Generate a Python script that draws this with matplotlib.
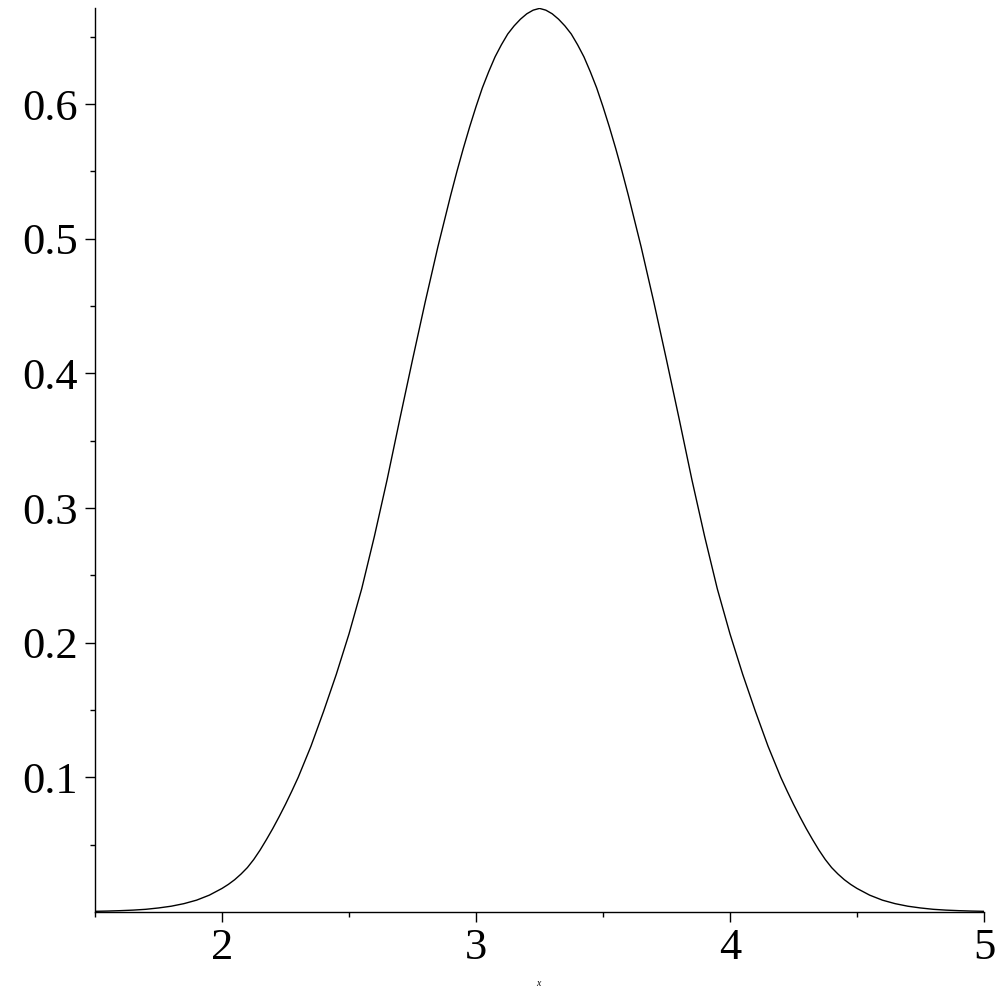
import matplotlib
matplotlib.use("Agg")
import matplotlib.pyplot as plt
from matplotlib.ticker import FixedLocator

x_vals = [1.50, 1.55, 1.60, 1.65, 1.70, 1.75, 1.80, 1.85, 1.90, 1.95,
          2.00, 2.025, 2.05, 2.075, 2.10, 2.125, 2.15, 2.175, 2.20, 2.225, 2.25, 2.275,
          2.30, 2.35, 2.40, 2.45, 2.50, 2.55, 2.60, 2.65, 2.70, 2.75, 2.80, 2.85,
          2.90, 2.925, 2.95, 2.975, 3.00, 3.025, 3.05, 3.075, 3.10, 3.125, 3.15, 3.175,
          3.20, 3.225, 3.25,
          3.275, 3.30, 3.325, 3.35, 3.375, 3.40, 3.425, 3.45, 3.475, 3.50, 3.525, 3.55,
          3.575, 3.60, 3.65, 3.70, 3.75, 3.80, 3.85, 3.90, 3.95, 4.00, 4.05, 4.10, 4.15,
          4.20, 4.225, 4.25, 4.275, 4.30, 4.325, 4.35, 4.375, 4.40, 4.425, 4.45, 4.475,
          4.50, 4.55, 4.60, 4.65, 4.70, 4.75, 4.80, 4.85, 4.90, 4.95, 5.00]
y_vals = [0.0005, 0.0007, 0.0010, 0.0014, 0.0020, 0.0030, 0.0043, 0.0062, 0.0088, 0.0125,
          0.0175, 0.0205, 0.0240, 0.0282, 0.0330, 0.0390, 0.0460, 0.0538, 0.0620, 0.0708, 0.0800, 0.0898,
          0.1000, 0.1230, 0.1490, 0.1765, 0.2065, 0.2400, 0.2790, 0.3210, 0.3660, 0.4100, 0.4530, 0.4940,
          0.5320, 0.5500, 0.5670, 0.5830, 0.5980, 0.6120, 0.6240, 0.6350, 0.6440, 0.6520, 0.6580, 0.6630,
          0.6670, 0.6697, 0.6710,
          0.6697, 0.6670, 0.6630, 0.6580, 0.6520, 0.6440, 0.6350, 0.6240, 0.6120, 0.5980, 0.5830, 0.5670,
          0.5500, 0.5320, 0.4940, 0.4530, 0.4100, 0.3660, 0.3210, 0.2790, 0.2400, 0.2065, 0.1765, 0.1490, 0.1230,
          0.1000, 0.0898, 0.0800, 0.0708, 0.0620, 0.0538, 0.0460, 0.0390, 0.0330, 0.0282, 0.0240, 0.0205,
          0.0175, 0.0125, 0.0088, 0.0062, 0.0043, 0.0030, 0.0020, 0.0014, 0.0010, 0.0007, 0.0005]

x_major = [2, 3, 4, 5]
x_minor = [1.5, 2.5, 3.5, 4.5]
y_major = [0.1, 0.2, 0.3, 0.4, 0.5, 0.6]
y_minor = [0.05, 0.15, 0.25, 0.35, 0.45, 0.55, 0.65]

plt.rcParams['font.family'] = ['Liberation Serif', 'DejaVu Serif']

fig = plt.figure(figsize=(10, 10), dpi=100)
ax = fig.add_axes([0.095, 0.088, 0.889, 0.904])
ax.plot(x_vals, y_vals, color='black', lw=1.0, solid_joinstyle='round')

ax.set_xlim(1.5, 5.0)
ax.set_ylim(0.0, 0.6713)
for s in ['top', 'right']:
    ax.spines[s].set_visible(False)
for s in ['left', 'bottom']:
    ax.spines[s].set_linewidth(1.0)

ax.xaxis.set_major_locator(FixedLocator(x_major))
ax.xaxis.set_minor_locator(FixedLocator(x_minor))
ax.yaxis.set_major_locator(FixedLocator(y_major))
ax.yaxis.set_minor_locator(FixedLocator(y_minor))
ax.set_xticklabels([str(v) for v in x_major])
ax.set_yticklabels([f"{v:.1f}" for v in y_major])

ax.tick_params(which='major', direction='out', length=7.5, width=1.0, labelsize=32, pad=4)
ax.tick_params(which='minor', direction='out', length=3.5, width=1.0)
ax.tick_params(axis='y', which='major', pad=5)

fig.text(0.538, 0.012, 'x', fontsize=7, style='italic', ha='center', va='bottom')

fig.savefig('out.png', dpi=100)
